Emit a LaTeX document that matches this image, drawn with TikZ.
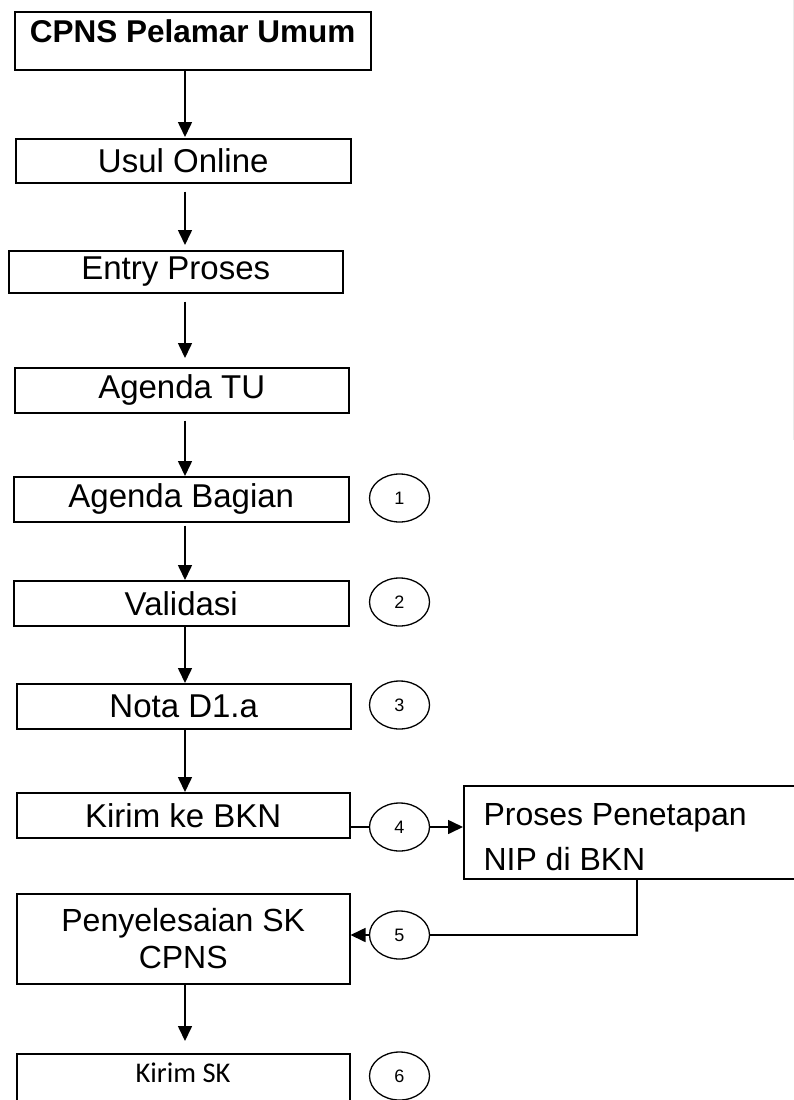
\documentclass[tikz,border=0pt]{standalone}
\usepackage{fontspec}
\setmainfont{Liberation Sans}
\newfontfamily\calib{Carlito}
\usetikzlibrary{arrows.meta,shapes.geometric}
\begin{document}
\begin{tikzpicture}[x=1pt,y=-1pt,
  box/.style={draw,line width=1.5pt,inner sep=0pt,anchor=north west,font=\fontsize{33}{38}\selectfont},
  num/.style={draw,ellipse,line width=1.3pt,minimum width=60pt,minimum height=48pt,inner sep=0pt,font=\fontsize{18}{20}\selectfont},
  arr/.style={line width=1.6pt,-{Triangle[length=15pt,width=14pt]}},
  ln/.style={line width=1.6pt}]
\useasboundingbox (0,0) rectangle (794,1100);
\clip (0,0) rectangle (794,1100);
\draw[black!8,line width=1pt] (793,0) -- (793,440);
\coordinate (ax) at (185,0);
% boxes
\node[box,minimum width=356pt,minimum height=58pt] (b0) at (14,11) {};
\node[font=\bfseries\fontsize{31.5}{36}\selectfont] (t0) at ([yshift=-20pt]b0.north) {CPNS Pelamar Umum};
\node[box,minimum width=335pt,minimum height=44pt] (b1) at (15,138) {Usul Online};
\node[box,minimum width=334pt,minimum height=42pt] (b2) at (8,250) {Entry Proses};
\node[box,minimum width=334pt,minimum height=45pt] (b3) at (14,367) {Agenda TU};
\node[box,minimum width=335pt,minimum height=45pt] (b4) at (13,476) {Agenda Bagian};
\node[box,minimum width=335pt,minimum height=45pt] (b5) at (13,580) {Validasi};
\node[box,minimum width=334pt,minimum height=45pt] (b6) at (16,683) {Nota D1.a};
\node[box,minimum width=333pt,minimum height=45pt] (b7) at (16,792) {Kirim ke BKN};
\node[box,minimum width=360pt,minimum height=93pt] (b8) at (463,785) {};
\node[font=\fontsize{32}{45}\selectfont,align=left,anchor=north west] (t8) at (480,800) {Proses Penetapan\\NIP di BKN};
\node[box,minimum width=333pt,minimum height=90pt,align=center,font=\fontsize{32}{37}\selectfont] (b9) at (16,893) {Penyelesaian SK\\CPNS};
\node[box,minimum width=333pt,minimum height=80pt] (b10) at (16,1053) {};
\node[font=\calib\fontsize{28.5}{32}\selectfont] (t10) at (183,1073) {Kirim SK};
% numbered ellipses
\node[num] (c1) at (399.5,498) {1};
\node[num] (c2) at (399.5,602) {2};
\node[num] (c3) at (399.5,705) {3};
\node[num] (c4) at (399.5,827) {4};
\node[num] (c5) at (399.5,935) {5};
\node[num] (c6) at (399.5,1076) {6};
% vertical arrows
\draw[arr] (b0.south -| ax) -- ([yshift=1pt]b1.north -| ax);
\draw[arr] ([yshift=-8pt]b1.south -| ax) -- ([yshift=5pt]b2.north -| ax);
\draw[arr] ([yshift=-8pt]b2.south -| ax) -- ([yshift=9pt]b3.north -| ax);
\draw[arr] ([yshift=-7pt]b3.south -| ax) -- (b4.north -| ax);
\draw[arr] ([yshift=-3pt]b4.south -| ax) -- (b5.north -| ax);
\draw[arr] (b5.south -| ax) -- (b6.north -| ax);
\draw[arr] (b6.south -| ax) -- (b7.north -| ax);
\draw[arr] (b9.south -| ax) -- ([yshift=12pt]b10.north -| ax);
% side connectors
\draw[ln] (b7.east |- c4.west) -- (c4.west);
\draw[arr] (c4.east) -- (b8.west |- c4.east);
\coordinate (k5) at (637,935);
\draw[ln] (b8.south -| k5) -- (k5) -- (c5.east);
\draw[arr] (c5.west) -- (b9.east |- c5.west);
\end{tikzpicture}
\end{document}
